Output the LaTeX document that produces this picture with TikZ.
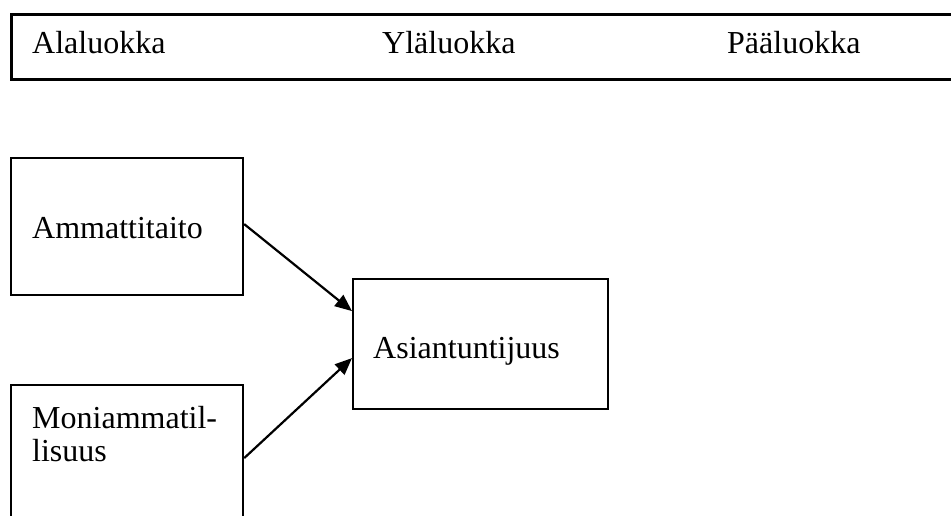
\documentclass[tikz,border=0pt]{standalone}
\usepackage{fontspec}
\setmainfont{Liberation Serif}
\usetikzlibrary{arrows.meta,positioning}

\begin{document}
\begin{tikzpicture}
    [x=1pt,y=-1pt,
    box/.style={draw, line width=2.2pt, inner sep=0pt, anchor=north west},
    itemtext/.style={anchor=base west, align=left, inner sep=0pt,
      font=\fontsize{32}{33}\selectfont},
    link/.style={line width=2.2pt, -{Triangle[length=17pt,width=14pt]}}]
    \useasboundingbox (0,0) rectangle (951,516);
    % luokkien otsikkorivi
    \node[box, line width=2.8pt, minimum width=960pt, minimum height=65pt] (head) at (10,13) {};
    \node[itemtext] (ala) at (32,54) {Alaluokka};
    \node[itemtext] (yla) at (382,54) {Yläluokka};
    \node[itemtext] (paa) at (727,54) {Pääluokka};
    % alaluokat
    \node[box, minimum width=232pt, minimum height=137pt] (amm) at (10,157) {};
    \node[itemtext] (ammtext) at (32,238) {Ammattitaito};
    \node[box, minimum width=232pt, minimum height=150pt] (moni) at (10,384) {};
    \node[itemtext] (monitext) at (32,461) {Moniammatil-\\lisuus};
    % yläluokka
    \node[box, minimum width=255pt, minimum height=130pt] (asi) at (352,278) {};
    \node[itemtext] (asitext) at (373,358) {Asiantuntijuus};
    \draw[link] ([yshift=2.5pt]amm.east) -- ([yshift=33pt]asi.west);
    \draw[link] ([yshift=2pt]moni.east) -- ([yshift=-14pt]asi.west);
\end{tikzpicture}
\end{document}
